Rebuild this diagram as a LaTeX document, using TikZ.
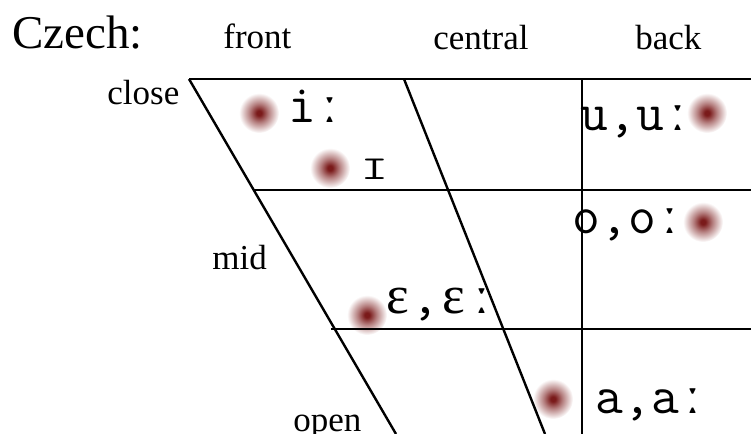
\documentclass[tikz,border=0pt]{standalone}
\usepackage{fontspec}
\setmainfont{Liberation Serif}
\setmonofont{Latin Modern Mono}
\newfontfamily\ipafont{Liberation Serif}
\usepackage{xcolor}
\definecolor{dotred}{HTML}{7A1A1A}
\usetikzlibrary{positioning,calc}
\pgfdeclareradialshading{reddot}{\pgfpoint{0bp}{0bp}}{%
  color(0bp)=(dotred); color(3bp)=(dotred); color(12bp)=(dotred!55!white);
  color(25bp)=(white); color(50bp)=(white)}
\tikzset{
  grid/.style ={draw=black,line width=1.2pt},
  lbl/.style  ={font=\fontsize{17.5}{20}\selectfont,anchor=base west,inner sep=0pt},
  title/.style={font=\fontsize{23.5}{28}\selectfont,anchor=base west,inner sep=0pt},
  vow/.style  ={font=\fontsize{27}{30}\selectfont\ttfamily,anchor=base west,inner sep=0pt},
  vdot/.style ={shading=reddot},
}
% ipa glyphs set in monospaced cells
\newcommand{\lng}{\makebox[0.525em]{\ipafont\bfseries ː}}
\newcommand{\eps}{\makebox[0.525em]{\ipafont ɛ}}
\newcommand{\smi}{\makebox[0.525em]{\scalebox{1}[0.62]{I}}}

\begin{document}
\begin{tikzpicture}[x=0.5pt,y=-0.5pt]
\useasboundingbox (0,0) rectangle (751,434);
% ---- dots under the chart
\coordinate (di) at (259,113);
\coordinate (dI) at (330,168);
\coordinate (du) at (707,113);
\coordinate (do) at (703,222);
\coordinate (de) at (367,315);
\coordinate (da) at (553,399);
\foreach \c in {di,dI,du,do,de,da} \shade[vdot] (\c) circle (10pt);

% ---- chart
\coordinate (tl) at (189,79);
\coordinate (bl) at (396,434);
\coordinate (tc) at (404,79);
\coordinate (bc) at (545,434);
\coordinate (tv) at (582,79);
\coordinate (bv) at (582,434);
\coordinate (re) at (751,79);
\coordinate (h1) at ($(tl)!0.3127!(bl)$);
\coordinate (h2) at ($(tl)!0.7042!(bl)+(-4,0)$);
\draw[grid] (tl) -- (re);
\draw[grid] (h1) -- (h1-|re);
\draw[grid] (h2) -- (h2-|re);
\draw[grid] (tl) -- (bl);
\draw[grid] (tc) -- (bc);
\draw[grid] (tv) -- (bv);

% ---- labels
\node[title] (czech) at (12,48) {Czech:};
\node[lbl] (front) at (223,48) {front};
\node[lbl] (central) at (433,49) {central};
\node[lbl] (back) at (635,49) {back};
\node[lbl] (close) at (107,104) {close};
\node[lbl] (mid) at (212,269) {mid};
\node[lbl] (open) at (293,431) {open};

% ---- vowels
\node[vow] (vi) at (288,122) {i\lng};
\node[vow] (vI) at (360,179) {\smi};
\node[vow] (vu) at (580,130) {u,u\lng};
\node[vow] (vo) at (572,233) {o,o\lng};
\node[vow] (ve) at (383,313) {\eps,\eps\lng};
\node[vow] (va) at (595,413) {a,a\lng};
\end{tikzpicture}
\end{document}
